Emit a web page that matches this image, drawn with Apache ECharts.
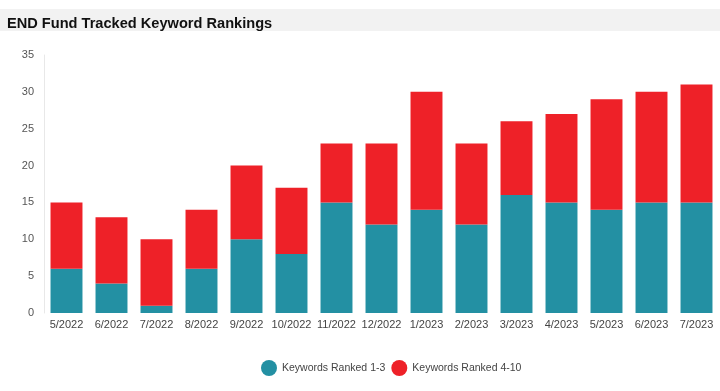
<!DOCTYPE html>
<html><head><meta charset="utf-8">
<script src="https://cdn.jsdelivr.net/npm/echarts@6/dist/echarts.min.js"></script>
<style>html,body{margin:0;padding:0;background:#fff}#c{width:720px;height:391px}</style>
</head><body><div id="c"></div>
<script>
const categories = ["5/2022","6/2022","7/2022","8/2022","9/2022","10/2022","11/2022","12/2022","1/2023","2/2023","3/2023","4/2023","5/2023","6/2023","7/2023"];
const ranked1to3 = [6,4,1,6,10,8,15,12,14,12,16,15,14,15,15];
const ranked4to10 = [9,9,9,8,10,9,8,11,16,11,10,12,15,15,16];
const yTicks = {min:0, max:35, interval:5};

const chart = echarts.init(document.getElementById('c'));
chart.setOption({
  animation:false,
  graphic:[{type:'rect', left:0, top:9, shape:{width:720, height:22}, style:{fill:'#f2f2f2'}, silent:true}],
  title:{text:'END Fund Tracked Keyword Rankings', left:2, top:11,
    textStyle:{fontFamily:'Arial, Liberation Sans', fontSize:14.6, fontWeight:'bold', color:'#111'}},
  legend:{bottom:10, left:256, icon:'circle', itemWidth:16, itemHeight:16, itemGap:6,
    textStyle:{fontFamily:'Arial, Liberation Sans', fontSize:10.5, color:'#444'}},
  grid:{left:44, right:1, top:55, bottom:78},
  xAxis:{type:'category', data:categories,
    axisLine:{show:false}, axisTick:{show:false},
    axisLabel:{interval:0, fontFamily:'Arial, Liberation Sans', fontSize:11, color:'#444', margin:6}},
  yAxis:{type:'value', min:yTicks.min, max:yTicks.max, interval:yTicks.interval,
    splitLine:{show:false}, axisLine:{show:true, lineStyle:{color:'#e8e8e8'}}, axisTick:{show:false},
    axisLabel:{fontFamily:'Arial, Liberation Sans', fontSize:11, color:'#555', margin:10}},
  series:[
    {name:'Keywords Ranked 1-3', type:'bar', stack:'a', data:ranked1to3, barWidth:'71%', itemStyle:{color:'#2390a3'}},
    {name:'Keywords Ranked 4-10', type:'bar', stack:'a', data:ranked4to10, barWidth:'71%', itemStyle:{color:'#ee2128'}}
  ]
});
</script></body></html>
